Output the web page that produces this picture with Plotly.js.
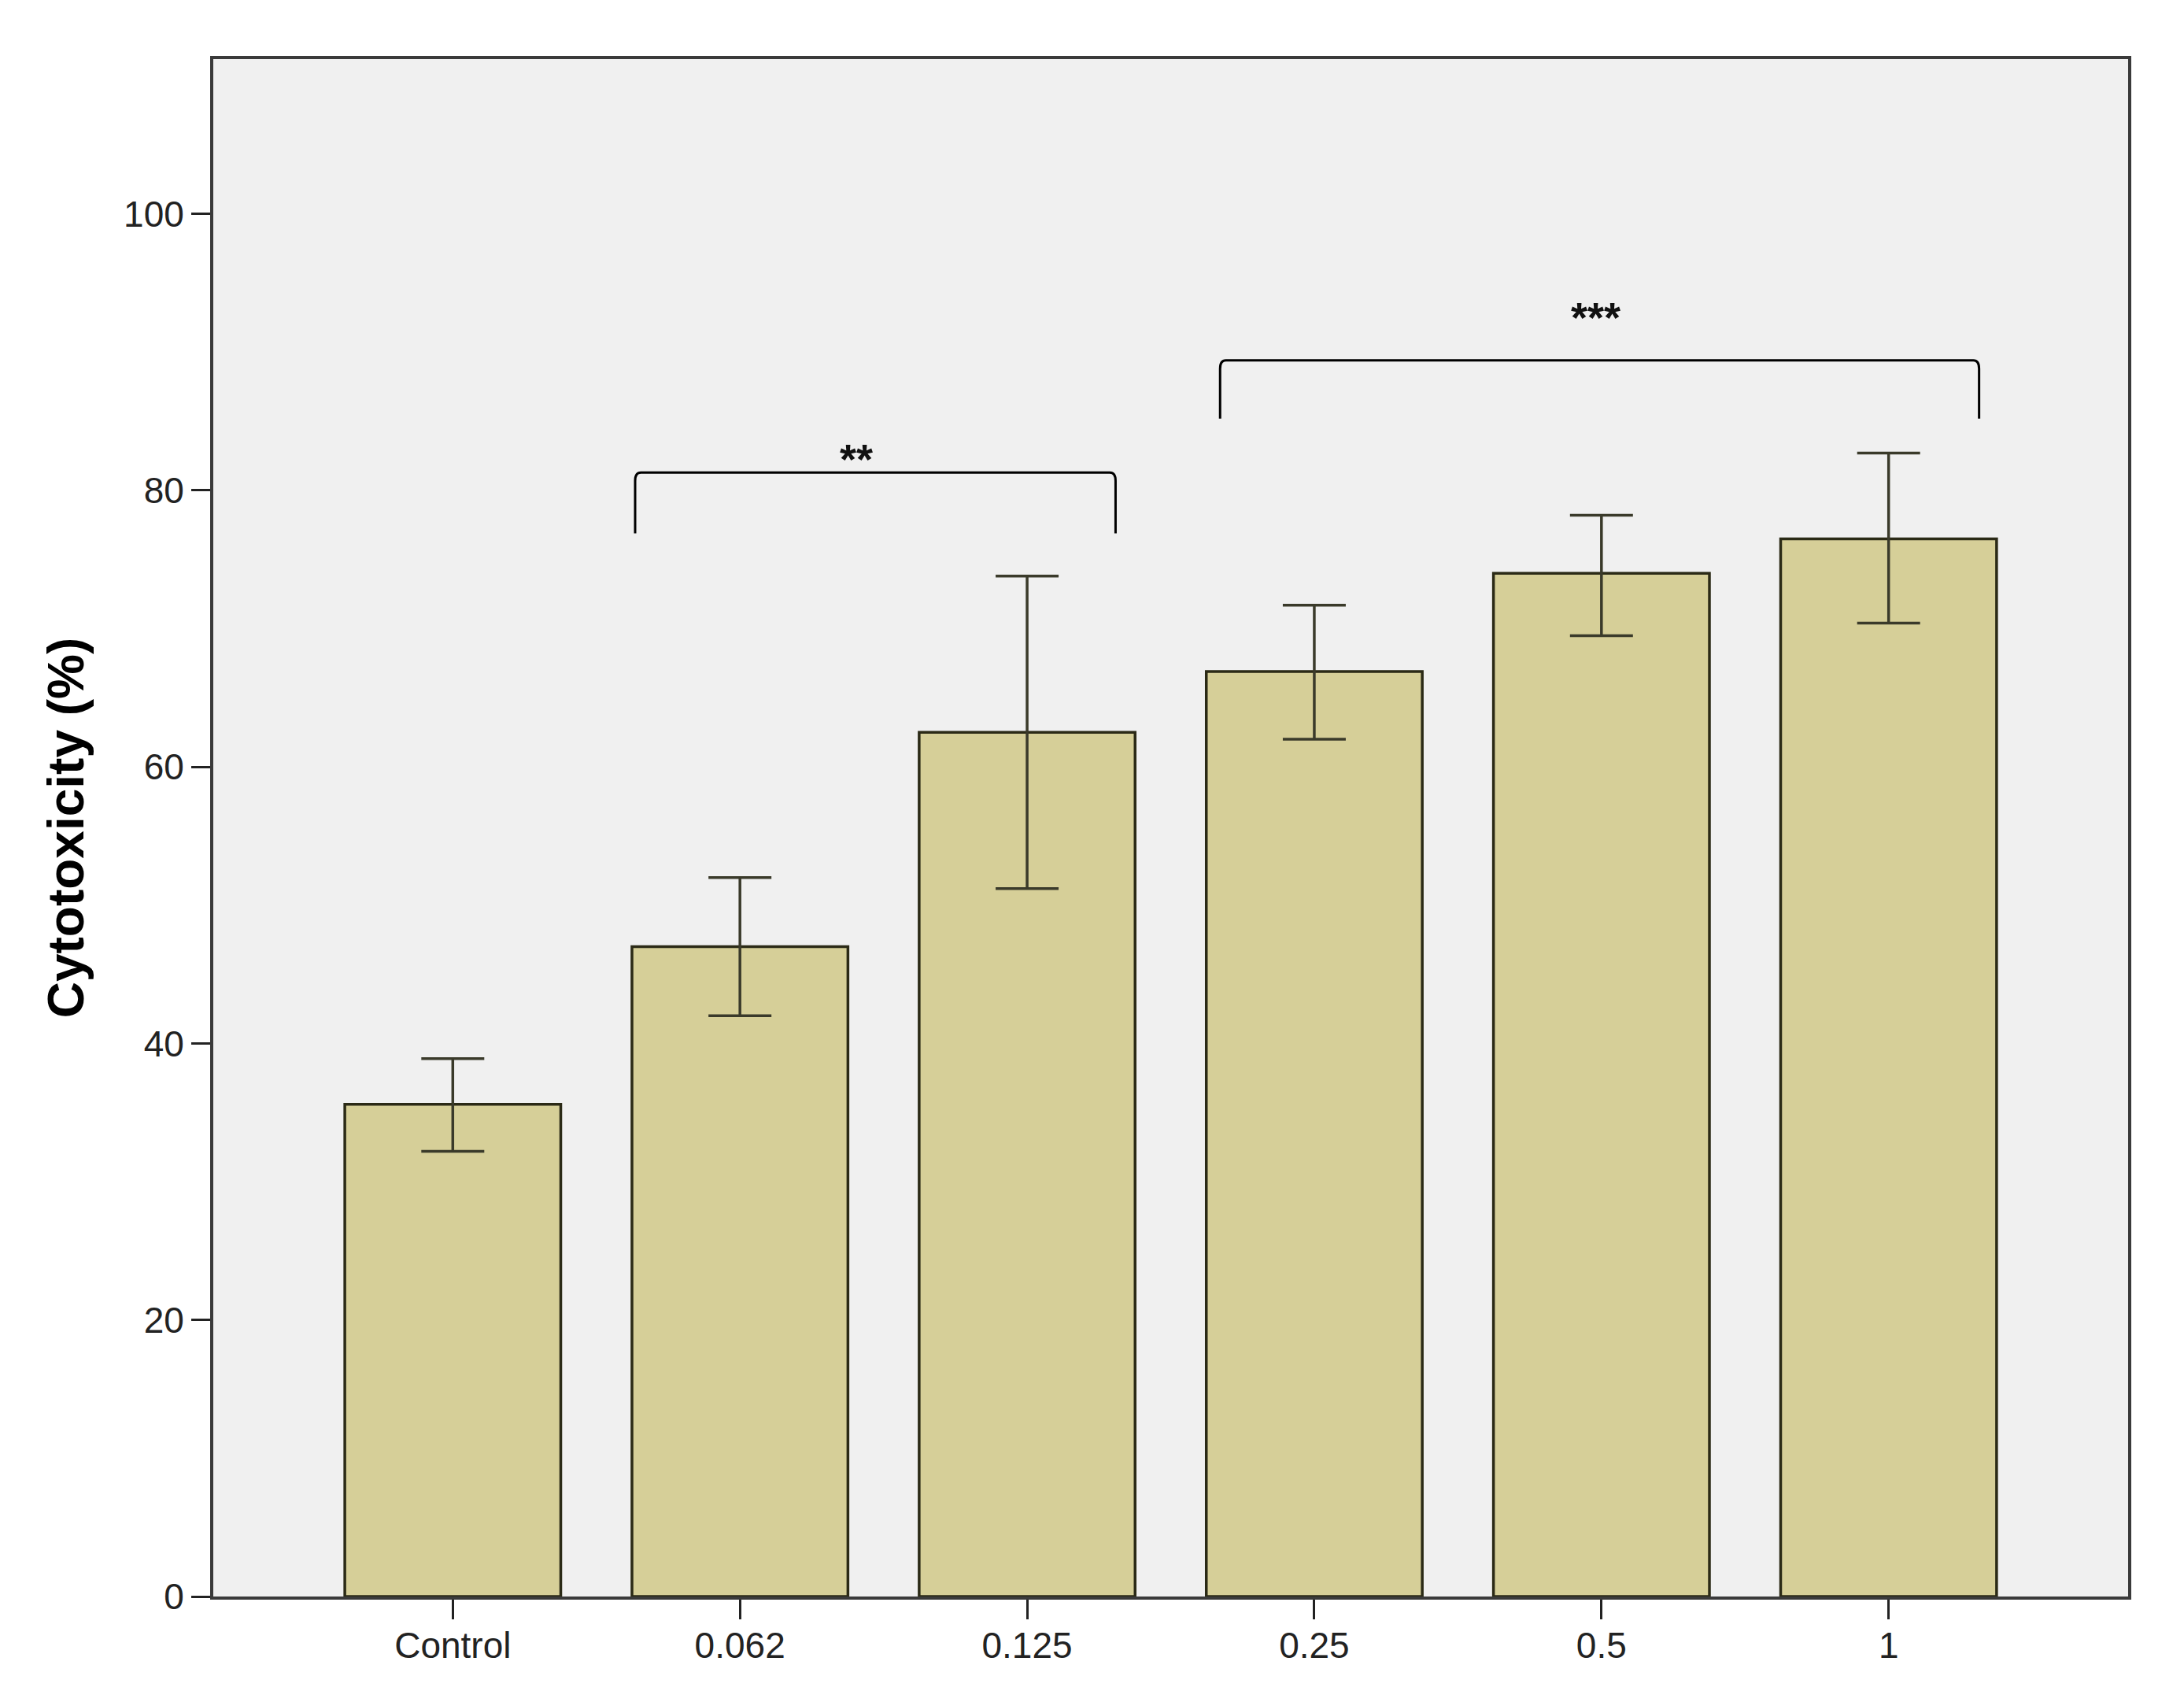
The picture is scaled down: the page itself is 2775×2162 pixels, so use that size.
<!DOCTYPE html>
<html>
<head>
<meta charset="utf-8">
<script src="https://cdn.plot.ly/plotly-3.0.1.min.js"></script>
<style>html,body{margin:0;padding:0;background:#fff;}#chart{width:2775px;height:2162px;}</style>
</head>
<body>
<div id="chart"></div>
<script>
// Data
const categories = ["Control", "0.062", "0.125", "0.25", "0.5", "1"];
const cytotoxicity = [35.6, 47.0, 62.5, 66.9, 74.0, 76.5];
const errPlus = [3.3, 5.0, 11.3, 4.8, 4.2, 6.2];
const errMinus = [3.4, 5.0, 11.3, 4.9, 4.5, 6.1];
const yTickVals = [0, 20, 40, 60, 80, 100];

// Significance brackets (category index positions, y values)
const bracketStart = [0.635, 2.672];
const bracketEnd = [2.308, 5.315];
const bracketTop = [81.3, 89.4];
const bracketLeg = [76.9, 85.2];
const bracketLabel = ["**", "***"];
const labelX = [1.406, 3.98];
const labelY = [82.3, 92.5];

const shapes = bracketStart.map((x0, i) => {
  const x1 = bracketEnd[i], yt = bracketTop[i], yl = bracketLeg[i];
  return {
    type: 'path', xref: 'x', yref: 'y',
    path: `M ${x0},${yl} L ${x0},${yt - 0.6} Q ${x0},${yt} ${x0 + 0.02},${yt} L ${x1 - 0.02},${yt} Q ${x1},${yt} ${x1},${yt - 0.6} L ${x1},${yl}`,
    line: {color: '#000000', width: 3}
  };
});

const annotations = bracketLabel.map((t, i) => ({
  x: labelX[i], y: labelY[i], xref: 'x', yref: 'y', text: '<b>' + t + '</b>', showarrow: false,
  font: {family: 'Liberation Sans, Arial, sans-serif', size: 54, color: '#111'},
  xanchor: 'center', yanchor: 'middle'
}));

const trace = {
  type: 'bar',
  x: categories,
  y: cytotoxicity,
  width: 0.752,
  marker: {color: '#D6CF98', line: {color: '#2b2a16', width: 3.5}},
  error_y: {type: 'data', symmetric: false, array: errPlus, arrayminus: errMinus,
            color: '#3a3a2a', thickness: 3.5, width: 40, visible: true},
  hoverinfo: 'skip'
};

const layout = {
  width: 2775, height: 2162,
  margin: {l: 271, r: 71, t: 75, b: 134},
  paper_bgcolor: '#ffffff',
  plot_bgcolor: '#F0F0F0',
  showlegend: false,
  font: {family: 'Liberation Sans, Arial, sans-serif', color: '#111'},
  xaxis: {
    type: 'category',
    range: [-0.834, 5.834],
    showgrid: false, zeroline: false,
    showline: true, linecolor: '#3a3a3a', linewidth: 4, mirror: true,
    ticks: 'outside', ticklen: 25, tickwidth: 3, tickcolor: '#222',
    ticklabelstandoff: -6,
    tickfont: {family: 'Liberation Sans, Arial, sans-serif', size: 46, color: '#222'},
    fixedrange: true
  },
  yaxis: {
    range: [0, 111.2],
    tickvals: yTickVals,
    ticktext: yTickVals.map(String),
    showgrid: false, zeroline: false,
    showline: true, linecolor: '#3a3a3a', linewidth: 4, mirror: true,
    ticks: 'outside', ticklen: 24, tickwidth: 3, tickcolor: '#222',
    tickfont: {family: 'Liberation Sans, Arial, sans-serif', size: 46, color: '#222'},
    title: {text: 'Cytotoxicity (%)', standoff: 31,
            font: {family: 'Liberation Sans, Arial, sans-serif', size: 64, color: '#000', weight: 'bold'}},
    fixedrange: true
  },
  shapes: shapes,
  annotations: annotations
};

Plotly.newPlot('chart', [trace], layout, {displayModeBar: false, staticPlot: true});
</script>
</body>
</html>
